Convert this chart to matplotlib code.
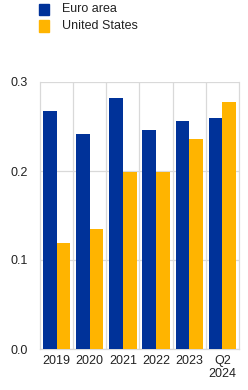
import matplotlib
matplotlib.use("Agg")
import matplotlib.pyplot as plt
import numpy as np
from matplotlib.patches import Rectangle

plt.rcParams['font.family'] = ['Liberation Sans', 'DejaVu Sans']

categories = ["2019", "2020", "2021", "2022", "2023", "Q2\n2024"]
euro_area = [0.267, 0.242, 0.282, 0.246, 0.256, 0.260]
united_states = [0.119, 0.135, 0.199, 0.199, 0.236, 0.277]
series_names = ["Euro area", "United States"]
colors = ["#003299", "#ffb400"]
yticks = [0.0, 0.1, 0.2, 0.3]

W, H = 248, 390
fig = plt.figure(figsize=(W / 100, H / 100), dpi=100)
ax = fig.add_axes([40 / W, 1 - 349 / H, 199 / W, 267 / H])

x = np.arange(len(categories))
bw = 0.41
ax.bar(x - bw / 2, euro_area, width=bw, color=colors[0], zorder=3, linewidth=0)
ax.bar(x + bw / 2, united_states, width=bw, color=colors[1], zorder=3, linewidth=0)

grid_c = "#d9d9d9"
ax.set_xlim(-0.5, len(categories) - 0.5)
ax.set_ylim(0, 0.3)
ax.set_yticks(yticks)
ax.set_yticklabels([f"{v:.1f}" for v in yticks])
ax.set_xticks(x)
ax.set_xticklabels(categories)
ax.set_xticks(np.arange(len(categories) - 1) + 0.5, minor=True)
ax.grid(axis='y', which='major', color=grid_c, linewidth=0.9, zorder=0)
ax.grid(axis='x', which='minor', color=grid_c, linewidth=0.9, zorder=0)
ax.tick_params(axis='both', which='both', length=0, labelsize=9, colors="#222222")
ax.tick_params(axis='y', pad=9)
ax.tick_params(axis='x', pad=4)
for s in ['left', 'right', 'bottom']:
    ax.spines[s].set_color(grid_c)
    ax.spines[s].set_linewidth(0.9)
ax.spines['top'].set_visible(False)

# legend
for i, (name, c) in enumerate(zip(series_names, colors)):
    yc = 1 - (9.5 + 16.5 * i) / H
    fig.patches.append(Rectangle((39 / W, yc - 5.5 / H), 10 / W, 11 / H,
                                 transform=fig.transFigure, color=c))
    fig.text(62 / W, yc, name, fontsize=9, va='center', ha='left', color="#222222")

fig.savefig("out.png", dpi=100)
